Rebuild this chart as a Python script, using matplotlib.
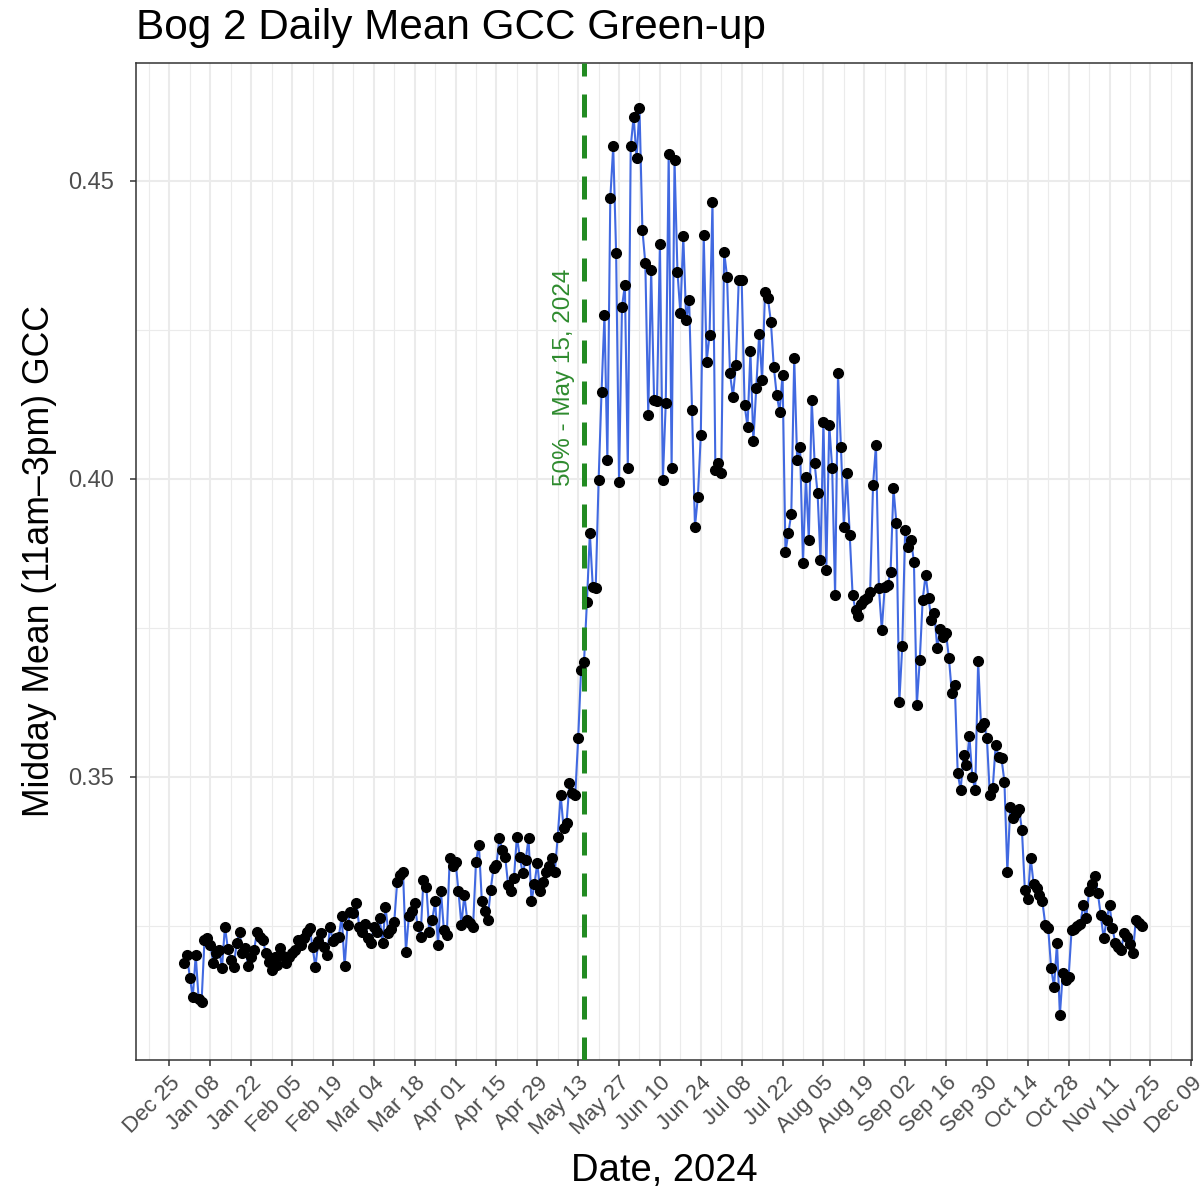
import numpy as np
import pandas as pd
import matplotlib
matplotlib.use("Agg")
import matplotlib.pyplot as plt
import matplotlib.dates as mdates

plt.rcParams['font.family'] = ['Liberation Sans', 'DejaVu Sans']

# --------------------------------------------------------------------------- #
#  Data: daily midday mean GCC, 2023-12-30 .. 2024-11-22  #
# --------------------------------------------------------------------------- #

start_date = "2023-12-30"

gcc_dec = [0.3188, 0.3201]
gcc_jan = [0.3163, 0.3131, 0.3201, 0.3127, 0.3123, 0.3226, 0.3230, 0.3218, 0.3188, 0.3205,
           0.3210, 0.3180, 0.3249, 0.3212, 0.3193, 0.3181, 0.3221, 0.3240, 0.3205, 0.3213,
           0.3182, 0.3198, 0.3210, 0.3240, 0.3232, 0.3226, 0.3205, 0.3190, 0.3176, 0.3198,
           0.3185]
gcc_feb = [0.3213, 0.3200, 0.3188, 0.3198, 0.3204, 0.3210, 0.3226, 0.3218, 0.3230, 0.3240,
           0.3247, 0.3215, 0.3181, 0.3225, 0.3238, 0.3215, 0.3201, 0.3249, 0.3224, 0.3230,
           0.3232, 0.3266, 0.3182, 0.3252, 0.3274, 0.3271, 0.3288, 0.3249, 0.3240]
gcc_mar = [0.3254, 0.3230, 0.3221, 0.3249, 0.3240, 0.3263, 0.3221, 0.3282, 0.3238, 0.3245,
           0.3257, 0.3324, 0.3335, 0.3341, 0.3207, 0.3266, 0.3275, 0.3288, 0.3250, 0.3232,
           0.3327, 0.3316, 0.3240, 0.3260, 0.3291, 0.3218, 0.3308, 0.3243, 0.3235, 0.3364,
           0.3350]
gcc_apr = [0.3358, 0.3308, 0.3252, 0.3302, 0.3260, 0.3255, 0.3249, 0.3358, 0.3386, 0.3291,
           0.3275, 0.3260, 0.3310, 0.3347, 0.3352, 0.3397, 0.3378, 0.3366, 0.3319, 0.3308,
           0.3330, 0.3400, 0.3366, 0.3338, 0.3360, 0.3397, 0.3291, 0.3320, 0.3355, 0.3308]
gcc_may = [0.3324, 0.3340, 0.3350, 0.3364, 0.3341, 0.3400, 0.3470, 0.3414, 0.3422, 0.3489,
           0.3473, 0.3470, 0.3565, 0.3680, 0.3693, 0.3794, 0.3909, 0.3819, 0.3817, 0.3998,
           0.4146, 0.4275, 0.4032, 0.4471, 0.4558, 0.4379, 0.3995, 0.4289, 0.4325, 0.4018,
           0.4558]
gcc_jun = [0.4608, 0.4538, 0.4622, 0.4418, 0.4362, 0.4107, 0.4351, 0.4133, 0.4130, 0.4395,
           0.3998, 0.4127, 0.4546, 0.4018, 0.4535, 0.4348, 0.4278, 0.4407, 0.4267, 0.4300,
           0.4116, 0.3920, 0.3970, 0.4074, 0.4409, 0.4197, 0.4242, 0.4465, 0.4015, 0.4026]
gcc_jul = [0.4010, 0.4381, 0.4339, 0.4177, 0.4138, 0.4191, 0.4334, 0.4334, 0.4124, 0.4088,
           0.4214, 0.4063, 0.4152, 0.4244, 0.4166, 0.4314, 0.4303, 0.4264, 0.4188, 0.4141,
           0.4113, 0.4175, 0.3878, 0.3909, 0.3942, 0.4203, 0.4032, 0.4054, 0.3859, 0.4004,
           0.3898]
gcc_aug = [0.4133, 0.4026, 0.3976, 0.3864, 0.4096, 0.3847, 0.4091, 0.4018, 0.3805, 0.4177,
           0.4054, 0.3920, 0.4010, 0.3906, 0.3805, 0.3780, 0.3770, 0.3791, 0.3797, 0.3800,
           0.3810, 0.3990, 0.4057, 0.3817, 0.3747, 0.3819, 0.3822, 0.3844, 0.3984, 0.3926,
           0.3626]
gcc_sep = [0.3719, 0.3914, 0.3886, 0.3898, 0.3861, 0.3621, 0.3696, 0.3797, 0.3839, 0.3800,
           0.3763, 0.3775, 0.3716, 0.3749, 0.3735, 0.3741, 0.3699, 0.3640, 0.3654, 0.3506,
           0.3478, 0.3537, 0.3520, 0.3568, 0.3500, 0.3478, 0.3694, 0.3584, 0.3590, 0.3565]
gcc_oct = [0.3470, 0.3481, 0.3554, 0.3534, 0.3531, 0.3492, 0.3341, 0.3450, 0.3431, 0.3440,
           0.3447, 0.3411, 0.3310, 0.3296, 0.3364, 0.3320, 0.3313, 0.3302, 0.3291, 0.3252,
           0.3246, 0.3179, 0.3148, 0.3221, 0.3101, 0.3171, 0.3159, 0.3165, 0.3243, 0.3245,
           0.3250]
gcc_nov = [0.3254, 0.3285, 0.3263, 0.3308, 0.3320, 0.3333, 0.3305, 0.3268, 0.3229, 0.3260,
           0.3285, 0.3246, 0.3221, 0.3215, 0.3210, 0.3238, 0.3232, 0.3220, 0.3204, 0.3260,
           0.3255, 0.3250]

greenup_date = "2024-05-15"
greenup_label = "50% - May 15, 2024"

gcc = np.array(gcc_dec + gcc_jan + gcc_feb + gcc_mar + gcc_apr + gcc_may + gcc_jun
               + gcc_jul + gcc_aug + gcc_sep + gcc_oct + gcc_nov)
dates = pd.date_range(start_date, periods=len(gcc), freq="D")

# --------------------------------------------------------------------------- #
#  Figure (ggplot theme_bw look)                                               #
# --------------------------------------------------------------------------- #

W, H = 1204, 1193
fig = plt.figure(figsize=(W / 100, H / 100), dpi=100)
L, R, T, B = 136, 1192, 63, 1060
ax = fig.add_axes([L / W, 1 - B / H, (R - L) / W, (B - T) / H])

ax.plot(dates, gcc, color="#4169E1", lw=1.5, zorder=3)
ax.plot(dates, gcc, ls="none", marker="o", ms=7, color="black", zorder=4)

gd = pd.Timestamp(greenup_date)
ax.axvline(gd, color="#228B22", lw=3.6, ls=(0, (4.6, 3.6)), zorder=5)
ax.text(gd - pd.Timedelta(days=7), 0.4171, greenup_label, rotation=90,
        ha="center", va="center", color="#2E8B2E", fontsize=17.5, zorder=6)

# axes limits
ax.set_xlim(pd.Timestamp("2023-12-13 13:00"), pd.Timestamp("2024-12-09 06:00"))
ax.set_ylim(0.3025, 0.4698)

# ticks
major = pd.date_range("2023-12-25", "2024-12-09", freq="14D")
minor = pd.date_range("2023-12-18", "2024-12-09", freq="7D")
minor = [d for d in minor if d not in set(major)]
ax.set_xticks(major)
ax.set_xticks(minor, minor=True)
ax.xaxis.set_major_formatter(mdates.DateFormatter("%b %d"))
ax.set_yticks([0.35, 0.40, 0.45])
ax.set_yticklabels(["0.35", "0.40", "0.45"])
ax.set_yticks([0.325, 0.375, 0.425], minor=True)

ax.grid(which="major", color="#EBEBEB", lw=1.5, zorder=0)
ax.grid(which="minor", color="#EBEBEB", lw=0.8, zorder=0)
ax.set_axisbelow(True)

for s in ax.spines.values():
    s.set_color("#333333")
    s.set_linewidth(1.1)

ax.tick_params(which="major", length=4, width=1.1, color="#333333",
               labelcolor="#4D4D4D", labelsize=17)
ax.tick_params(which="minor", length=0)
ax.tick_params(axis="y", pad=12)
ax.tick_params(axis="x", labelsize=16, pad=5)
for lab in ax.get_xticklabels():
    lab.set_rotation(45)
    lab.set_ha("right")
    lab.set_rotation_mode("anchor")

# titles
fig.text(L / W, 1 - 39 / H, "Bog 2 Daily Mean GCC Green-up", fontsize=30.4,
         ha="left", va="baseline", color="black")
fig.text((L + R) / 2 / W, 1 - 1171 / H, "Date, 2024", fontsize=27.5,
         ha="center", va="center", color="black")
fig.text(40 / W, 1 - (T + B) / 2 / H, "Midday Mean (11am\u20133pm) GCC", fontsize=25.7,
         ha="center", va="center", rotation=90, color="black")

fig.savefig("out.png", dpi=100)
